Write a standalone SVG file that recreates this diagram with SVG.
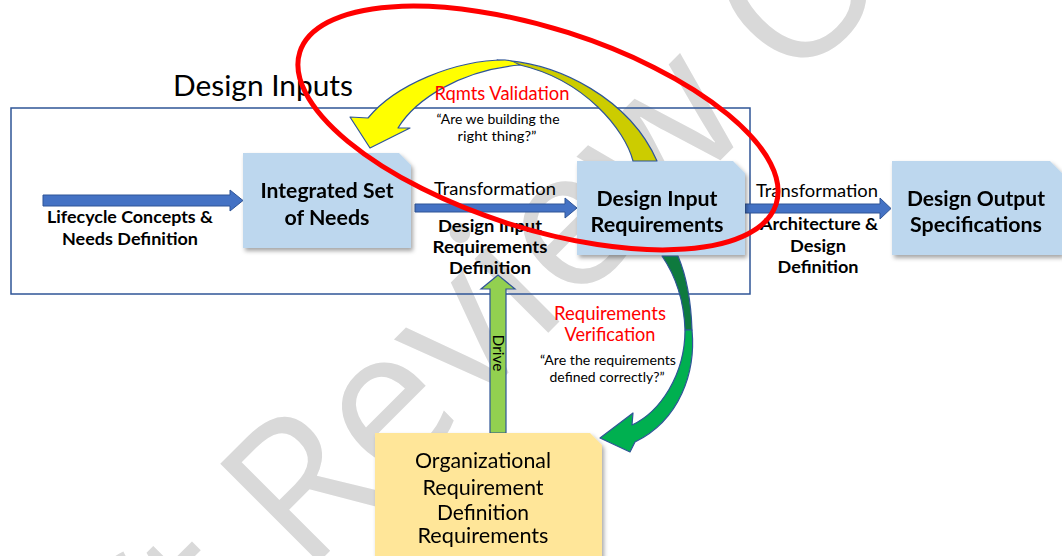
<svg xmlns="http://www.w3.org/2000/svg" width="1062" height="556" viewBox="0 0 1062 556">
<style>
text{font-family:Lato,"Open Sans","Liberation Sans",sans-serif;fill:#000}
.b{font-weight:bold}
.c{text-anchor:middle}
.red{fill:#ff0000}
.wm{font-family:"Open Sans","DejaVu Sans",sans-serif;font-size:195px;fill:#d9d9d9}
.blue{fill:#bdd7ee}
.yel{fill:#ffe699}
.arr{fill:#4472c4;stroke:#2f5597;stroke-width:1}
.cv{stroke:#2f5597;stroke-width:1.2;stroke-linejoin:round}
</style>
<defs>
<filter id="sh" x="-10%" y="-10%" width="125%" height="130%">
<feDropShadow dx="2" dy="3" stdDeviation="2" flood-color="#000" flood-opacity="0.35"/>
</filter>
</defs>
<rect width="1062" height="556" fill="#fff"/>
<text class="wm" transform="translate(305,576) rotate(-45)" x="-515" y="0">Draft Review Only</text>

<g id="frame">
<rect x="11" y="108" width="739" height="186" fill="none" stroke="#2f5597" stroke-width="1.5"/>
<text x="173" y="96" font-size="28" textLength="180" lengthAdjust="spacingAndGlyphs">Design Inputs</text>
</g>

<g id="connectors">
<g id="arrow-lifecycle">
<path class="arr" d="M43,195 H230 V190 L243,200.5 L230,211 V206 H43 Z"/>
<text class="b c" x="130" y="223" font-size="17.5" textLength="166" lengthAdjust="spacingAndGlyphs">Lifecycle Concepts &amp;</text>
<text class="b c" x="130" y="245" font-size="17.5" textLength="136" lengthAdjust="spacingAndGlyphs">Needs Definition</text>
</g>
<g id="arrow-dird">
<path class="arr" d="M415,204 H565 V198 L577,208 L565,218 V212 H415 Z"/>
<text class="c" x="495" y="195" font-size="17.5" textLength="122" lengthAdjust="spacingAndGlyphs">Transformation</text>
<text class="b c" x="490" y="232" font-size="17.5" textLength="104" lengthAdjust="spacingAndGlyphs">Design Input</text>
<text class="b c" x="490" y="253" font-size="17.5" textLength="115" lengthAdjust="spacingAndGlyphs">Requirements</text>
<text class="b c" x="490" y="274" font-size="17.5" textLength="82" lengthAdjust="spacingAndGlyphs">Definition</text>
</g>
<g id="arrow-arch">
<path class="arr" d="M745,204 H880 V198 L891,208.5 L880,219 V213 H745 Z"/>
<text class="c" x="817" y="197" font-size="17.5" textLength="122" lengthAdjust="spacingAndGlyphs">Transformation</text>
<text class="b c" x="819" y="230" font-size="17.5" textLength="118" lengthAdjust="spacingAndGlyphs">Architecture &amp;</text>
<text class="b c" x="818" y="252" font-size="17.5" textLength="56" lengthAdjust="spacingAndGlyphs">Design</text>
<text class="b c" x="818" y="273" font-size="17.5" textLength="81" lengthAdjust="spacingAndGlyphs">Definition</text>
</g>
<g id="arrow-drive">
<path d="M490,433 V289 H481 L498,275 L515,289 H506 V433 Z" fill="#92d050" stroke="#2f5597" stroke-width="1.2"/>
<text class="c" transform="translate(498,353) rotate(90)" x="0" y="0" dominant-baseline="central" font-size="14.5" textLength="37" lengthAdjust="spacingAndGlyphs">Drive</text>
</g>
</g>

<g id="node-needs" filter="url(#sh)">
<path class="blue" d="M243,153 H399 L411,165 V248 H243 Z"/>
<text class="b c" x="327" y="198" font-size="21.5" textLength="133" lengthAdjust="spacingAndGlyphs">Integrated Set</text>
<text class="b c" x="327" y="225" font-size="21.5" textLength="85" lengthAdjust="spacingAndGlyphs">of Needs</text>
</g>
<g id="node-dir" filter="url(#sh)">
<path class="blue" d="M577,161 H733 L745,173 V255 H577 Z"/>
<text class="b c" x="657" y="206" font-size="21.5" textLength="121" lengthAdjust="spacingAndGlyphs">Design Input</text>
<text class="b c" x="657" y="232" font-size="21.5" textLength="133" lengthAdjust="spacingAndGlyphs">Requirements</text>
</g>
<g id="node-dos" filter="url(#sh)">
<path class="blue" d="M892,161 H1050 L1062,173 V255 H892 Z"/>
<text class="b c" x="976" y="206" font-size="21.5" textLength="138" lengthAdjust="spacingAndGlyphs">Design Output</text>
<text class="b c" x="976" y="232" font-size="21.5" textLength="132" lengthAdjust="spacingAndGlyphs">Specifications</text>
</g>
<g id="node-org" filter="url(#sh)">
<path class="yel" d="M375,433 H590 L602,445 V566 H375 Z"/>
<text class="c" x="483" y="468" font-size="21.5" textLength="136" lengthAdjust="spacingAndGlyphs">Organizational</text>
<text class="c" x="483" y="495" font-size="21.5" textLength="121" lengthAdjust="spacingAndGlyphs">Requirement</text>
<text class="c" x="483" y="520" font-size="21.5" textLength="92" lengthAdjust="spacingAndGlyphs">Definition</text>
<text class="c" x="483" y="543" font-size="21.5" textLength="131" lengthAdjust="spacingAndGlyphs">Requirements</text>
</g>

<g id="validation">
<path class="cv" fill="#cccc00" d="M497,60 C560,62 630,100 657,161 L633,161 C625,130 585,80 520,65 Z"/>
<path class="cv" fill="#ffff00" d="M505,60 C455,60 395,85 368,118 L350,117 L370,148 L410,128 L398,128 C415,100 460,70 520,65 C515,62 510,60 505,60 Z"/>
<text class="c red" x="502" y="100" font-size="18.5" textLength="135" lengthAdjust="spacingAndGlyphs">Rqmts Validation</text>
<text class="c" x="498" y="124" font-size="13" textLength="123" lengthAdjust="spacingAndGlyphs">“Are we building the</text>
<text class="c" x="497" y="141" font-size="13" textLength="79" lengthAdjust="spacingAndGlyphs">right thing?”</text>
</g>

<g id="verification">
<path class="cv" fill="#0e7a3e" d="M662,256 C675,275 684,300 685,330 L692,330 C691,300 686,275 678,256 Z"/>
<path class="cv" fill="#00b050" d="M692,330 C696,372 680,420 635,442 L630,452 L600,438 L633,413 L632,425 C660,412 685,375 685,330 Z"/>
<text class="c red" x="610" y="320" font-size="18.5" textLength="112" lengthAdjust="spacingAndGlyphs">Requirements</text>
<text class="c red" x="610" y="341" font-size="18.5" textLength="91" lengthAdjust="spacingAndGlyphs">Verification</text>
<text class="c" x="608" y="365" font-size="13" textLength="136" lengthAdjust="spacingAndGlyphs">“Are the requirements</text>
<text class="c" x="607" y="382" font-size="13" textLength="115" lengthAdjust="spacingAndGlyphs">defined correctly?”</text>
</g>

<g id="highlight">
<ellipse cx="538" cy="128" rx="250" ry="100" transform="rotate(17.7 538 128)" fill="none" stroke="#ff0000" stroke-width="5"/>
</g>
</svg>
